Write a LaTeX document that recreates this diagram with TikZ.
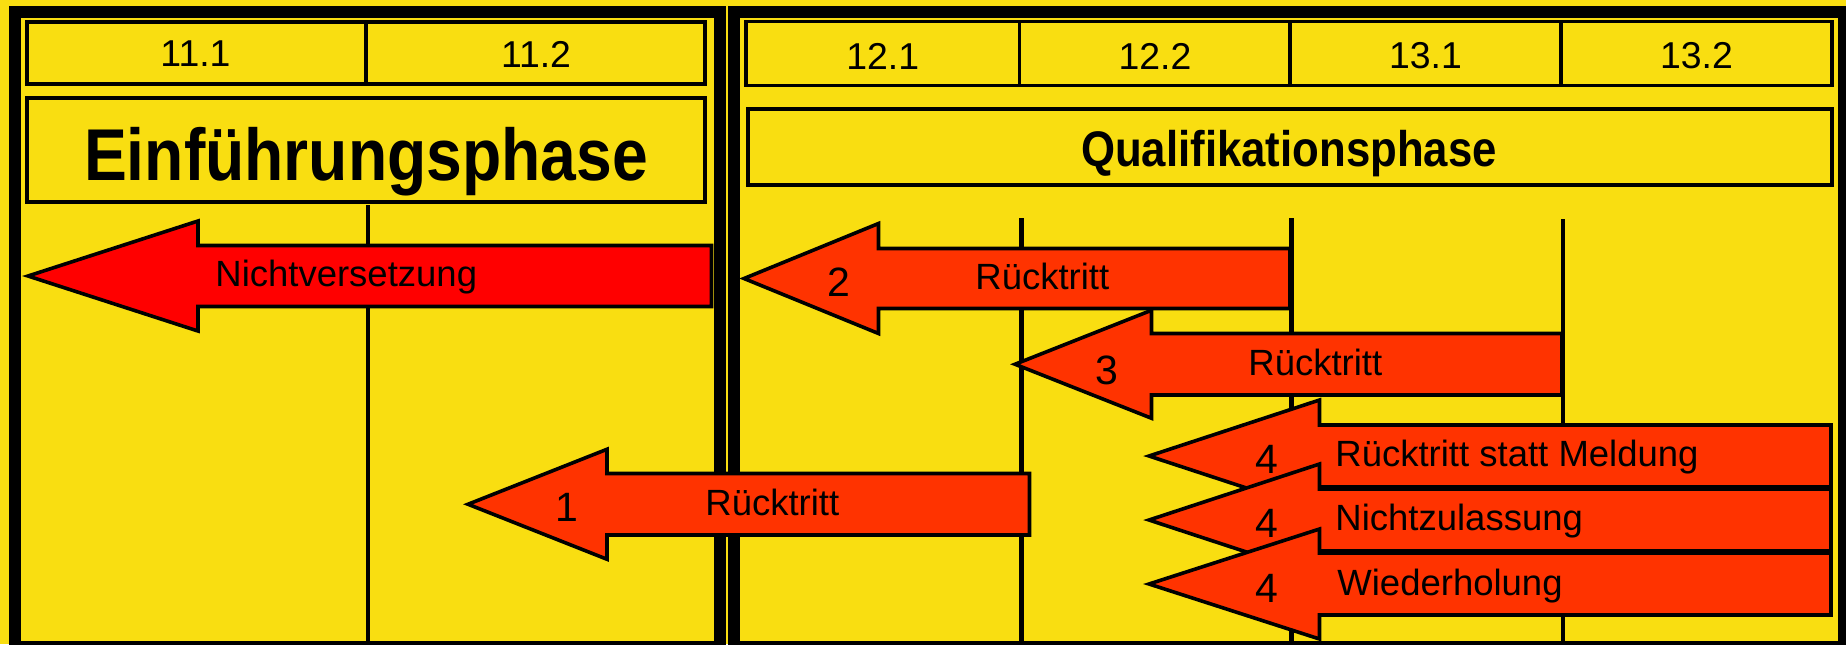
\documentclass[tikz,border=0pt]{standalone}
\usepackage{fontspec}
\setmainfont{Liberation Sans}
\newfontfamily\headfont[FakeStretch=0.875]{Liberation Sans Bold}
\definecolor{bgyellow}{RGB}{249,222,17}
\definecolor{arrred}{RGB}{255,0,0}
\definecolor{arrorange}{RGB}{255,51,0}
% fill, tip x, tip y, head back x, head half height, shaft half height, right end x
\newcommand\phasearrow[7]{%
  \filldraw[arrowshape, fill=#1] (#2,#3) -- (#4,{#3-#5}) -- (#4,{#3-#6}) -- (#7,{#3-#6})
    -- (#7,{#3+#6}) -- (#4,{#3+#6}) -- (#4,{#3+#5}) -- cycle;}
\begin{document}
\begin{tikzpicture}[x=0.5pt,y=-0.5pt,
  frame/.style={line width=6pt, draw=black},
  hbox/.style={line width=1.75pt, draw=black},
  vline/.style={line width=2.4pt, draw=black},
  arrowshape/.style={line width=1.8pt, draw=black, line join=miter},
  semtext/.style={font=\fontsize{18.7}{20}\selectfont, inner sep=0pt},
  lbltext/.style={font=\fontsize{18.25}{20}\selectfont, inner sep=0pt, anchor=base west},
  numtext/.style={font=\fontsize{20.5}{22}\selectfont, inner sep=0pt},
]
\useasboundingbox (0,0) rectangle (1846,644);
\clip (0,0) rectangle (1846,644);
\fill[bgyellow] (0,0) rectangle (1846,644);

% frames
\draw[frame] (14.5,11.5) rectangle (720,647);
\draw[frame] (734,11.5) rectangle (1844,647);

% left header
\draw[hbox] (27,22) rectangle (705,84);
\draw[hbox] (366,22) -- (366,84);
\node[semtext] (s111) at (195.5,54) {11.1};
\node[semtext] (s112) at (536,54) {11.2};
\draw[hbox] (27,98) rectangle (705,202);
\node[font={\headfont\fontsize{36.7}{40}\selectfont}, inner sep=0pt, anchor=base] (ephase) at (366,180) {Einführungsphase};

% right header
\draw[hbox] (746,21.5) rectangle (1832,85.5);
\draw[hbox] (1019.5,21.5) -- (1019.5,85.5);
\draw[hbox] (1290,21.5) -- (1290,85.5);
\draw[hbox] (1561,21.5) -- (1561,85.5);
\node[semtext] (s121) at (882.75,56) {12.1};
\node[semtext] (s122) at (1155,56) {12.2};
\node[semtext] (s131) at (1425.5,56) {13.1};
\node[semtext] (s132) at (1696.5,56) {13.2};
\draw[hbox] (748,109) rectangle (1832,185);
\node[font={\headfont\fontsize{25}{28}\selectfont}, inner sep=0pt, anchor=base] (qphase) at (1289,166) {Qualifikationsphase};

% vertical semester lines
\draw[vline] (368,205) -- (368,650);
\draw[vline] (1021.5,218) -- (1021.5,650);
\draw[vline] (1291.5,218) -- (1291.5,650);
\draw[vline] (1563,219) -- (1563,650);

% arrows
\phasearrow{arrred}{28}{276}{198}{55}{30.5}{711.5}
\phasearrow{arrorange}{744}{278.5}{878.5}{55}{30}{1290}
\phasearrow{arrorange}{1015}{364.25}{1151.5}{54}{30.75}{1562}
\phasearrow{arrorange}{468}{504.25}{607}{55}{30.75}{1029.5}
\phasearrow{arrorange}{1149}{456}{1319.5}{56}{31}{1831}
\phasearrow{arrorange}{1149}{520}{1319.5}{56}{31}{1831}
\phasearrow{arrorange}{1149}{584}{1319.5}{55}{31}{1831}

% arrow labels
\node[lbltext] (nv) at (215,286) {Nichtversetzung};
\node[numtext] (n2) at (839,282) {2};
\node[lbltext] (r2) at (975,289) {Rücktritt};
\node[numtext] (n3) at (1107,370) {3};
\node[lbltext] (r3) at (1248,375) {Rücktritt};
\node[numtext] (n1) at (567,507) {1};
\node[lbltext] (r1) at (705,515) {Rücktritt};
\node[numtext] (n4a) at (1267,459) {4};
\node[lbltext] (t4a) at (1335,466) {Rücktritt statt Meldung};
\node[numtext] (n4b) at (1267,523) {4};
\node[lbltext] (t4b) at (1335,530) {Nichtzulassung};
\node[numtext] (n4c) at (1267,588) {4};
\node[lbltext] (t4c) at (1337,595) {Wiederholung};
\end{tikzpicture}
\end{document}
